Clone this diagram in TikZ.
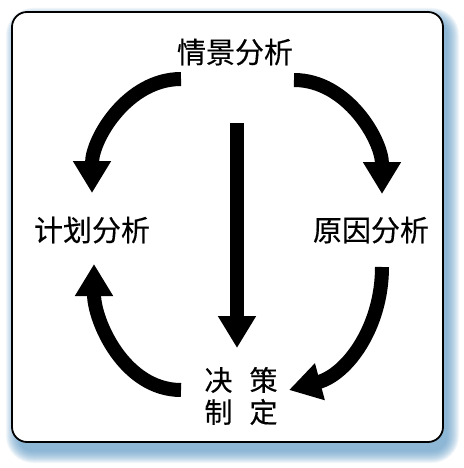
\documentclass[tikz,border=0pt]{standalone}
\usepackage{fontspec}
\newfontfamily\cjk[FakeBold=0.4]{Noto Sans CJK SC}
\usetikzlibrary{arrows.meta}
\definecolor{shadowblue}{RGB}{95,155,200}
\tikzset{
  lbl/.style={font=\cjk\fontsize{29}{32}\selectfont, inner sep=0pt, text=black},
  bigarrow/.style={line width=14pt, -{Triangle[width=36pt,length=32pt]}, black},
  frame/.style={draw=black, line width=1.8pt, fill=white, rounded corners=15pt}
}
\begin{document}
\begin{tikzpicture}[x=1pt,y=-1pt]
\useasboundingbox (0,0) rectangle (463,468);
\fill[white] (0,0) rectangle (463,468);
% shadow
\foreach \k in {0,...,12}{
  \fill[shadowblue, opacity=0.085, rounded corners=15pt+\k pt]
    (18-\k,20-\k) rectangle (447+\k,451+\k);
}
\draw[frame] (12,12) rectangle (443,442);
% labels
\node[lbl] (sit) at (235,52) {情景分析};
\node[lbl] (plan) at (92,230) {计划分析};
\node[lbl] (cause) at (371,230) {原因分析};
\node[lbl, align=center, font=\cjk\fontsize{28}{32}\selectfont] (dec) at (241,396) {决\hspace{17pt}策\\制\hspace{17pt}定};
% connector endpoints
\coordinate (tlS) at (181,79);
\coordinate (tlE) at (92,193);
\coordinate (trS) at (294,80);
\coordinate (trE) at (382,194);
\coordinate (cS) at (237,123);
\coordinate (cE) at (237,348);
\coordinate (blS) at (181,390);
\coordinate (blE) at (94,264);
\coordinate (brS) at (382,267);
\coordinate (brE) at (289,390);
% arrows
\draw[bigarrow] (tlS) to[out=180,in=90,looseness=0.95] (tlE);
\draw[bigarrow] (trS) to[out=0,in=90,looseness=0.95] (trE);
\draw[bigarrow] (cS) -- (cE);
\draw[bigarrow] (blS) to[out=180,in=-90,looseness=0.95] (blE);
\draw[bigarrow] (brS) to[out=-90,in=15,looseness=1.0] (brE);
\end{tikzpicture}
\end{document}
